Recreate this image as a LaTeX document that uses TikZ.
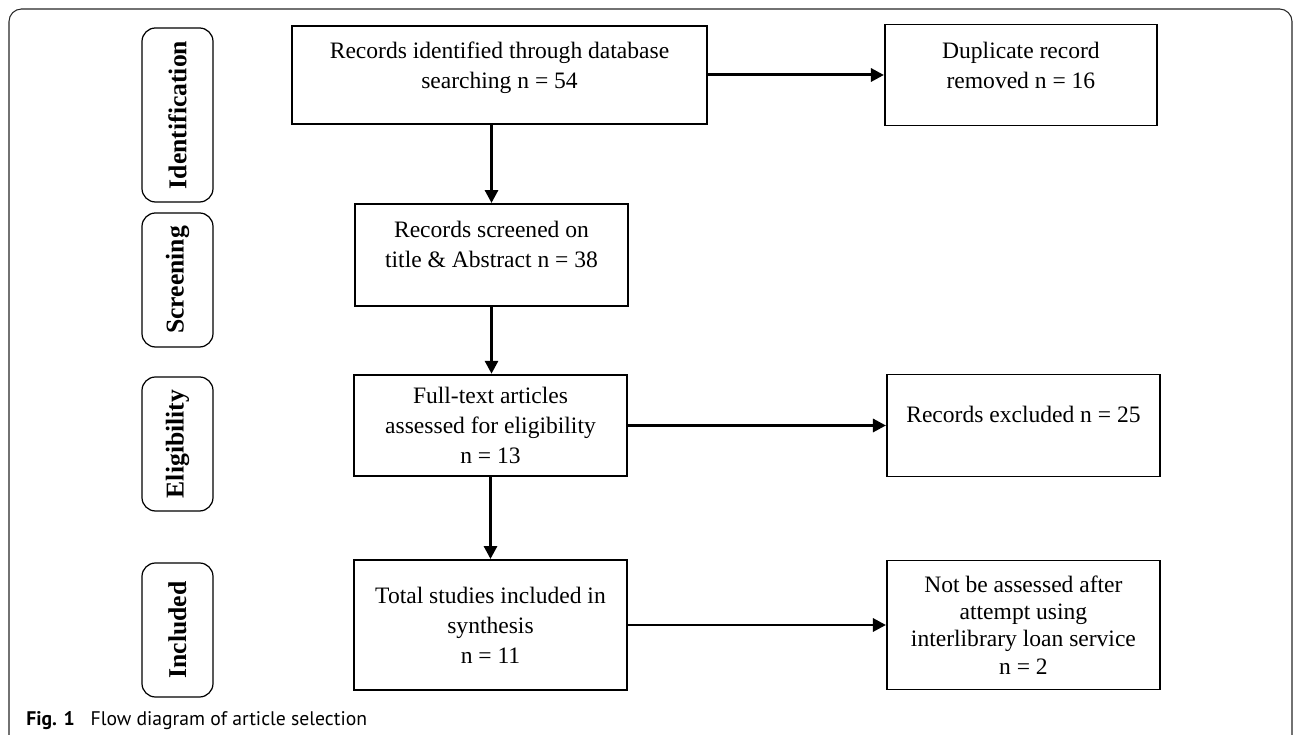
\documentclass[tikz,border=0pt]{standalone}
\usepackage{fontspec}
\setmainfont{Liberation Serif}
\newfontfamily\capfont{PT Sans}
\usetikzlibrary{positioning,arrows.meta}

\begin{document}
\begin{tikzpicture}[
    box/.style={draw, rectangle, line width=1.1pt, align=center, minimum width=5.46cm, minimum height=2.03cm, inner sep=2pt, font=\fontsize{13.4}{17}\selectfont},
    lift/.style={text depth=#1},
    phase/.style={draw, rectangle, rounded corners=0.27cm, line width=0.7pt, rotate=90, minimum width=2.68cm, minimum height=1.42cm, font=\fontsize{14.6}{17}\selectfont\bfseries},
    flow/.style={line width=1.7pt, -{Triangle[length=0.26cm, width=0.26cm]}}
]
    \useasboundingbox (0,0) rectangle (25.9,14.7);
    % frame
    \draw[line width=0.6pt, black!85, rounded corners=0.25cm] (0.18,-0.2) -- (0.18,14.52) -- (25.84,14.52) -- (25.84,-0.2);

    % phases
    \node [phase, minimum width=3.48cm] (pident) at (3.55,12.40) {Identification};
    \node [phase] (pscreen) at (3.55,9.10) {Screening};
    \node [phase] (pelig) at (3.55,5.82) {Eligibility};
    \node [phase] (pincl) at (3.55,2.10) {Included};

    % flow boxes
    \node [box, minimum width=8.30cm, minimum height=1.96cm, lift=0.38cm] (ident) at (9.99,13.20) {Records identified through database\\searching n = 54};
    \node [box, minimum width=5.44cm, minimum height=2.02cm, lift=0.40cm, right=3.52cm of ident] (dup) {Duplicate record\\removed n = 16};
    \node [box, minimum height=2.04cm, lift=0.42cm] (screen) at (9.83,9.60) {Records screened on\\title \& Abstract n = 38};
    \node [box] (full) at (9.81,6.19) {Full-text articles\\assessed for eligibility\\n = 13};
    \node [box, minimum height=2.04cm, lift=0.45cm, right=5.16cm of full] (excl) {Records excluded n = 25};
    \node [box, minimum height=2.60cm] (total) at (9.81,2.20) {Total studies included in\\synthesis\\n = 11};
    \node [box, minimum height=2.58cm, font=\fontsize{13.4}{15.6}\selectfont, right=5.16cm of total] (notass) {Not be assessed after\\attempt using\\interlibrary loan service\\n = 2};

    % arrows
    \draw[flow] (ident.east) -- (ident.east -| dup.west);
    \draw[flow] (ident.south -| screen.north) -- (screen.north);
    \draw[flow] (screen.south) -- (screen.south |- full.north);
    \draw[flow] (full.east) -- (full.east -| excl.west);
    \draw[flow] (full.south) -- (total.north);
    \draw[flow] (total.east) -- (total.east -| notass.west);

    \node [anchor=base west, inner sep=0pt, font=\capfont\fontsize{11.2}{14}\selectfont] (caption) at (0.52,0.18) {\textbf{Fig. 1}\hspace{0.8em}Flow diagram of article selection};
\end{tikzpicture}
\end{document}
